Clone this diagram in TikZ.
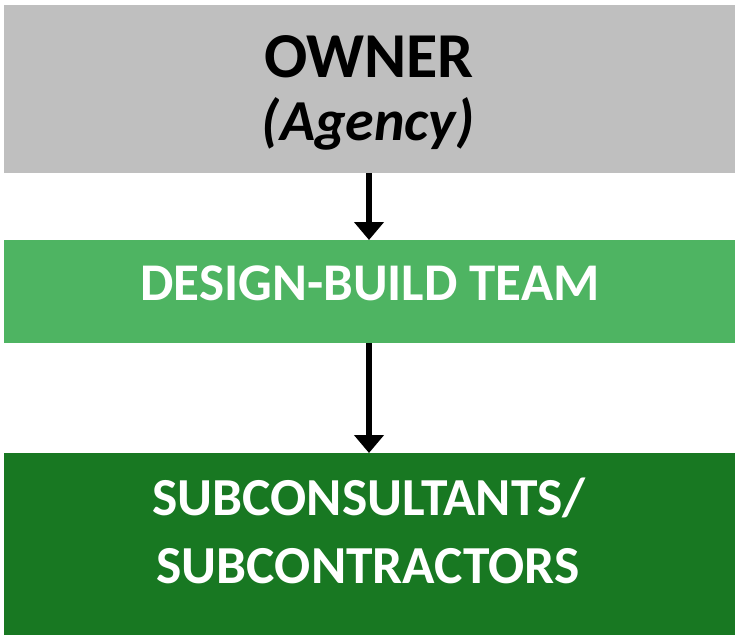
\documentclass[tikz,border=0pt]{standalone}
\usepackage{fontspec}
\setmainfont{Carlito}
\usetikzlibrary{arrows.meta}
\definecolor{boxgray}{HTML}{BFBFBF}
\definecolor{lightgreen}{HTML}{4EB462}
\definecolor{darkgreen}{HTML}{187822}
\tikzset{
  box/.style={draw=none, inner sep=0pt, outer sep=0pt, minimum width=731pt},
  lbl/.style={inner sep=0pt, anchor=base, font=\bfseries},
  link/.style={line width=6pt, -{Triangle[width=29pt,length=18pt]}, shorten >=0pt}
}
\begin{document}
\begin{tikzpicture}[x=1pt,y=-1pt]
\useasboundingbox (0,0) rectangle (735,635);
\node[box, fill=boxgray, minimum height=168pt] (owner) at (369.5,89) {};
\node[box, fill=lightgreen, minimum height=103pt] (dbt) at (369.5,291.5) {};
\node[box, fill=darkgreen, minimum height=182pt] (subs) at (369.5,544) {};
\node[lbl, font=\fontsize{64}{64}\selectfont\bfseries] (ownerT) at (369,77) {OWNER};
\node[lbl, font=\fontsize{58}{58}\selectfont\bfseries\itshape] (agencyT) at (368,140) {(Agency)};
\node[lbl, text=white, font=\fontsize{53}{53}\selectfont\bfseries] (dbtT) at (370,300) {DESIGN-BUILD TEAM};
\node[lbl, text=white, font=\fontsize{53.5}{53.5}\selectfont\bfseries] (subT1) at (369,515) {SUBCONSULTANTS/};
\node[lbl, text=white, font=\fontsize{53.5}{53.5}\selectfont\bfseries] (subT2) at (368,583) {SUBCONTRACTORS};
\draw[link] (owner.south -| 369,0) -- (dbt.north -| 369,0);
\draw[link] (dbt.south -| 369,0) -- (subs.north -| 369,0);
\end{tikzpicture}
\end{document}
